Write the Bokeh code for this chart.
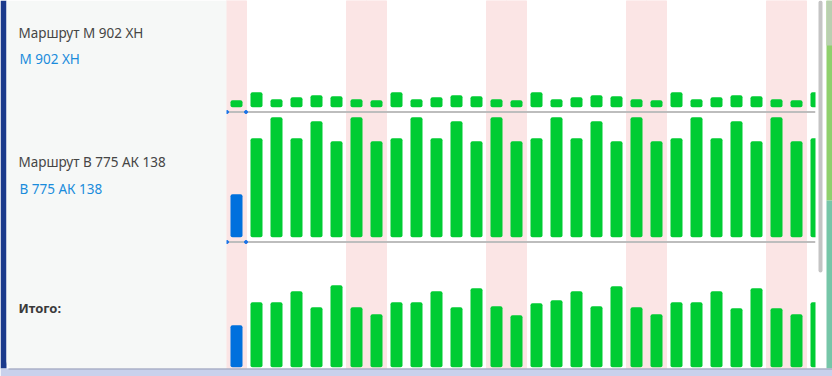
from bokeh.plotting import figure
from bokeh.models import Range1d, ColumnDataSource
from bokeh.core.properties import value
from bokeh.embed import file_html
from bokeh.resources import INLINE

# ---------------- data ----------------
day_index = list(range(30))
weekend_days = [0, 6, 7, 13, 14, 20, 21, 27, 28]
highlight_day = 0

route1_name = "Маршрут М 902 ХН"
route1_plate = "М 902 ХН"
route2_name = "Маршрут В 775 АК 138"
route2_plate = "В 775 АК 138"
total_label = "Итого:"

route1_values = [7, 15, 8, 10, 12, 11, 8, 7, 15, 8, 10, 12, 11, 8, 7,
                 15, 8, 10, 12, 11, 8, 7, 15, 8, 10, 12, 11, 8, 7, 15]
route2_values = [43, 99, 120, 99, 116, 96, 120, 96, 99, 120, 99, 116, 96, 120, 96,
                 99, 120, 99, 116, 96, 120, 96, 99, 120, 99, 116, 96, 120, 96, 99]
total_values = [42, 65, 65, 76, 60, 82, 60, 53, 65, 65, 76, 60, 79, 61, 52,
                64, 67, 76, 61, 81, 60, 53, 65, 65, 76, 59, 79, 59, 53, 65]

# ---------------- styles ----------------
GREEN = "#00cc33"
BLUE = "#0070dd"
PINK = "#fbe5e5"
FONT = value("Noto Sans")

W, H = 832, 376
p = figure(width=W, height=H, x_range=Range1d(0, W), y_range=Range1d(H, 0),
           output_backend="svg", toolbar_location=None, min_border=0,
           background_fill_color="white", border_fill_color="white")
p.axis.visible = False
p.grid.visible = False
p.outline_line_color = None

# day scale: day i centred at 236 + 20 i px
p.extra_x_ranges = {"day": Range1d(-11.8, 29.8)}
# each row: 1 unit = 1 px, baseline at the row's bottom
p.extra_y_ranges = {
    "r1": Range1d(-269.3, 106.7),
    "r2": Range1d(-139.3, 236.7),
    "r3": Range1d(-9.3, 366.7),
}

# weekend bands
p.quad(left=[d - 0.5 for d in weekend_days], right=[d + 0.5 for d in weekend_days],
       top=0, bottom=368, x_range_name="day", fill_color=PINK,
       line_color=PINK, line_width=1)

def bars(vals, rname, highlight):
    colors = [BLUE if (highlight and i == highlight_day) else GREEN for i in day_index]
    src = ColumnDataSource(dict(x=day_index, top=vals, color=colors))
    p.vbar(x="x", top="top", bottom=0, width=0.6, source=src, fill_color="color",
           line_color=None, x_range_name="day", y_range_name=rname, border_radius=2)

bars(route1_values, "r1", False)
bars(route2_values, "r2", True)
bars(total_values, "r3", True)

# row separators
for yy in (111.5, 241.5):
    p.segment(x0=226, x1=815, y0=yy, y1=yy, line_color="#bdbdbd", line_width=2)
    p.scatter(x=[226.5, 245.5], y=[yy, yy], size=3, color="#1a73e8")

# right edge: scrollbar and decoration
p.quad(left=815, right=826, top=0, bottom=368, fill_color="white", line_color=None)
p.quad(left=818, right=822, top=0, bottom=272, fill_color="#c4c4c4", line_color=None,
       border_radius=2)
p.quad(left=826, right=832, top=0, bottom=200, fill_color="#8fd06c", line_color=None)
p.quad(left=826, right=832, top=200, bottom=368, fill_color="#76c6a8", line_color=None)
p.quad(left=826, right=832, top=0, bottom=45, fill_color="#b9cfb0", line_color=None)

# left panel
p.quad(left=0, right=6, top=0, bottom=368, fill_color="#1b3a8c", line_color=None)
p.quad(left=6, right=226, top=0, bottom=368, fill_color="#f6f8f7", line_color=None,
       border_radius=[0, 0, 0, 7])

# bottom strip
p.quad(left=0, right=W, top=368, bottom=H, fill_color="#c9d1ec", line_color=None)
p.segment(x0=8, x1=W, y0=368.5, y1=368.5, line_color="#9aa0b4", line_width=1)

# texts
p.text(x=[18, 18], y=[32.5, 161.7], text=[route1_name, route2_name],
       text_font=FONT, text_font_size="13.5px", text_color="#454545",
       text_baseline="middle")
p.text(x=[19, 19], y=[58.5, 188.5], text=[route1_plate, route2_plate],
       text_font=FONT, text_font_size="13.5px", text_color="#1a8cdc",
       text_baseline="middle")
p.text(x=[18], y=[307.5], text=[total_label], text_font=FONT, text_font_size="13px",
       text_color="#3a3a3a", text_font_style="bold", text_baseline="middle")

open("out.html", "w").write(file_html(p, INLINE))
